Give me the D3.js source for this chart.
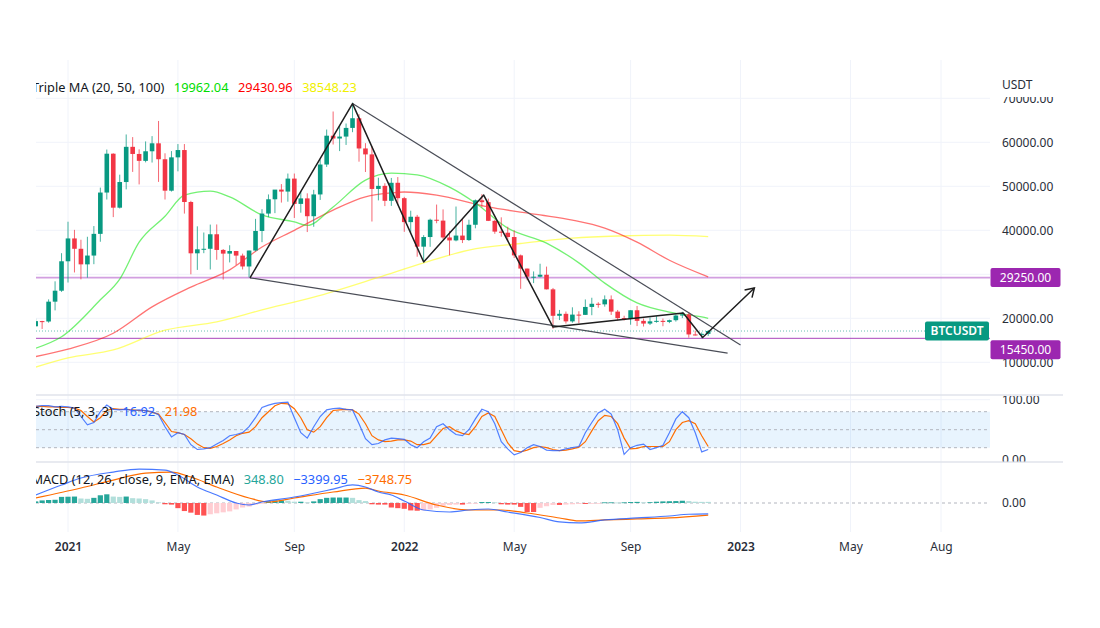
<!DOCTYPE html>
<html><head><meta charset="utf-8">
<script src="https://cdn.jsdelivr.net/npm/d3@7"></script>
<style>body{margin:0;background:#fff;} svg{display:block;font-family:"Noto Sans",sans-serif;}</style>
</head><body><svg id="c" width="1100" height="628"></svg>
<script>
// ---------- DATA ----------
const firstWeek = "2020-11-30"; // weekly bars, Monday open
const open = [18185,19360,19270,23780,26270,32960,38150,35800,32260,34260,
39190,48580,57410,45140,50970,58970,57350,55780,57960,59770,
56150,49000,56580,58240,46430,34770,35680,35800,39100,35540,
34700,35290,34250,31780,35400,39850,43800,47050,49250,48800,
51750,46000,47250,43200,48150,54950,61500,60860,61300,63270,
65470,58600,57250,49400,50100,46700,50800,47300,41860,43080,
36280,38470,42400,42200,38370,37700,38800,37780,41260,46820,
46400,42150,39700,39450,38470,34300,31300,29450,29450,29900,
26580,20570,21020,19300,20840,20780,22580,23300,23170,24300,
21520,20050,19830,21830,19420,18800,19310,19420,19180,19570,
20630,20900,16330,16280,16460];
const high = [19920,19420,24300,28400,34800,41950,40100,37850,38530,40960,
49700,58350,57500,52640,61780,61180,58400,60200,61400,64850,
57500,58000,59600,59600,46700,40900,39500,41300,41330,35750,
36600,35300,34700,35400,42600,44800,48150,49000,50500,52900,
52900,48850,48400,49200,56100,62900,67000,63700,64270,69000,
66400,59800,59100,51950,50700,51900,52100,47600,44450,43500,
38900,42650,45850,44750,39850,45400,42600,42400,47000,48200,
47200,42400,42950,40800,40000,34500,31300,30650,32400,31750,
26900,21900,21540,22500,21600,24280,24670,23650,25200,25200,
21900,20580,21860,22800,19950,20200,20480,19950,19700,20850,
21480,21450,17200,16800,17300];
const low = [18110,17580,19000,21800,26000,28130,30420,28850,29240,32300,
37400,47000,43000,44950,49300,53270,50430,55440,55400,51000,
47000,48800,53400,43800,30000,31000,34800,31100,33300,28800,
32700,32100,31100,29300,35200,37300,43000,43900,46300,46500,
42800,44000,39600,40800,46900,54400,59500,58000,59400,62300,
55600,53250,42000,46800,45500,45550,45700,39650,39500,34000,
32900,36250,41600,38000,34300,37500,37100,37600,40450,45200,
42100,39200,38550,37580,33700,26700,28650,28000,29300,26560,
17620,19600,18800,19000,18900,20760,20700,22400,22650,20760,
19520,19520,18540,18230,18130,18470,19000,18200,18900,19250,
20050,15600,16100,15480,16000];
const close = [19360,19270,23780,26270,32960,38150,35800,32260,34260,39190,
48580,57410,45140,50970,58970,57350,55780,57960,59770,56150,
49000,56580,58240,46430,34770,35680,35800,39100,35540,34700,
35290,34250,31780,35400,39850,43800,47050,49250,48800,51750,
46000,47250,43200,48150,54950,61500,60860,61300,63270,65470,
58600,57250,49400,50100,46700,50800,47300,41860,43080,36280,
38470,42400,42200,38370,37700,38800,37780,41260,46820,46400,
42150,39700,39450,38470,34300,31300,29450,29450,29900,26580,
20570,21020,19300,20840,20780,22580,23300,23170,24300,21520,
20050,19830,21830,19420,18800,19310,19420,19180,19570,20630,
20900,16330,16280,16460,17110];

const ma20 = [[0,13200],[4,15800],[10,24200],[13,28900],[16,37300],[20,43200],[23,48000],[27,48900],[30,47600],[35,43500],[40,41900],[42,41100],[46,45300],[51,51400],[55,53000],[59,52600],[64,49800],[68,46200],[73,40500],[79,37100],[84,32600],[88,28000],[93,23500],[98,21400],[103,20300],[104,19962]];
const ma50 = [[0,11300],[5,13000],[12,16600],[18,22600],[24,27100],[30,31000],[35,36200],[40,40000],[46,44600],[51,47600],[55,48500],[57,48700],[62,48000],[70,45300],[78,43500],[83,42300],[88,40500],[93,37300],[98,33200],[104,29431]];
const ma100 = [[0,8900],[5,11000],[12,12800],[20,17300],[28,19200],[35,21900],[43,24800],[53,29300],[60,32600],[67,35500],[75,37000],[83,38200],[90,38700],[98,38900],[104,38548]];
const maLabels = ["19962.04","29430.96","38548.23"];

// Stoch (5,3,3)
const stochK = [89,90,90,88,89,88,86,72,58,62,
80,91,84,83,84,82,83,82,80,75,
55,38,45,42,25,17,18,20,26,32,
40,42,45,55,70,87,91,94,95,96,
70,45,36,55,72,83,85,86,84,83,
60,35,25,27,33,36,35,34,25,20,
30,36,55,60,50,42,40,50,68,84,
80,60,30,18,8,12,20,25,22,16,
15,15,18,20,22,45,62,78,84,76,
50,9,20,24,26,17,20,24,45,68,
80,70,45,13,16.92];
const stochD = [89,89,88,88,87,87,86,82,72,63,
70,82,85,84,84,83,82,82,79,76,
62,47,45,42,35,26,20,19,22,27,
33,40,44,46,55,70,80,90,94,93,
85,70,50,46,55,70,82,83,84,83,
76,60,40,33,30,31,33,33,31,25,
25,28,40,52,55,48,44,42,55,72,
78,72,50,28,15,13,16,20,22,20,
17,15,16,18,21,30,48,65,74,72,
60,36,18,19,22,22,22,22,30,50,
62,65,60,40,21.98];
const stochLabels = ["16.92","21.98"];

// MACD (12, 26, close, 9) – sampled [barIndex, value]
const macdLine = [[0,2480],[4,5580],[7,7750],[12,9610],[16,10540],[20,10230],[22,8680],[25,4960],[28,2480],[31,0],[33,-620],[35,310],[40,1860],[46,4300],[49,5600],[51,4960],[53,3410],[55,2480],[57,620],[60,-2170],[64,-2790],[67,-2170],[70,-1860],[73,-2790],[78,-4500],[81,-5890],[84,-6200],[88,-5270],[93,-4650],[98,-4030],[101,-3500],[104,-3400]];
const signalLine = [[0,1550],[7,4650],[12,7130],[17,9300],[21,9610],[24,8060],[28,4960],[33,1550],[36,310],[40,1550],[46,3410],[51,4650],[53,3720],[57,2480],[62,-620],[67,-2170],[72,-2170],[76,-3100],[81,-4650],[84,-5580],[88,-5270],[93,-4960],[98,-4650],[104,-3749]];
const macdHist = [500,800,930,1000,1900,1950,2000,1400,1300,1600,
2400,2700,2000,1900,2000,1500,1400,1200,800,200,
-400,-500,-1600,-2500,-3000,-3700,-3900,-3500,-3200,-2900,
-2600,-2000,-1400,-1100,-500,-200,500,800,800,700,
400,400,200,500,1200,1600,1700,1700,1700,1600,
900,600,-400,-500,-500,-1400,-1600,-1800,-2300,-2400,
-2300,-2000,-1500,-900,-600,-500,-500,-300,-200,300,
300,200,-400,-500,-500,-1200,-2800,-2800,-1500,-1000,
-600,-600,-500,-400,-300,-300,-200,-150,200,200,
150,200,300,350,200,250,400,500,550,600,
700,600,400,350,349];
const macdLabels = ["348.80","\u22123399.95","\u22123748.75"];

// Price axis / levels
const priceTicks = [10000,20000,40000,50000,60000,70000];
const levels = [29250, 15450];
const lastPrice = 17110;
const stochTicks = [0,100];
const timeTicks = ["2021-01-04","2021-05-03","2021-09-06","2022-01-03","2022-05-02","2022-09-05","2023-01-02","2023-05-01","2023-08-07"];
const timeLabels = ["2021","May","Sep","2022","May","Sep","2023","May","Aug"];

// drawings: [date, price]
const zigzag = [["2021-07-20",29200],["2021-11-08",68800],["2022-01-24",32800],["2022-03-30",48000],["2022-06-13",18000],["2022-11-01",21200],["2022-11-22",15650],["2023-01-17",26900]];
const wedgeUpper = [["2021-11-08",68800],["2023-01-02",13950]];
const wedgeLower = [["2021-07-20",29200],["2022-12-19",12100]];

// ---------- LAYOUT ----------
const L = 36, R = 990;
const svg = d3.select("#c");
const parse = d3.utcParse("%Y-%m-%d");
const t0 = parse(firstWeek);
const dateOf = i => d3.utcDay.offset(t0, 7*i);
const x = d3.scaleUtc().domain([parse("2021-01-04"), parse("2023-08-07")]).range([68, 941]);
const xi = i => x(dateOf(i));
const y = d3.scaleLinear().domain([20000, 60000]).range([318.3, 142.3]);
const ys = d3.scaleLinear().domain([0, 100]).range([459.7, 399.7]);
const ym = d3.scaleLinear().domain([-5000, 5000]).range([519.1, 486.9]);

const defs = svg.append("defs");
defs.append("clipPath").attr("id","plot").append("rect").attr("x",L).attr("y",60).attr("width",R-L).attr("height",480);
defs.append("clipPath").attr("id","pane").append("rect").attr("x",L).attr("y",60).attr("width",R-L).attr("height",334);
defs.append("clipPath").attr("id","paxis").append("rect").attr("x",R).attr("y",97).attr("width",110).attr("height",297);
defs.append("clipPath").attr("id","saxis").append("rect").attr("x",R).attr("y",396).attr("width",110).attr("height",65.5);

const grid = "#f0f3fa";
// vertical grid
svg.append("g").selectAll("line").data(timeTicks).join("line")
  .attr("x1",d=>x(parse(d))).attr("x2",d=>x(parse(d))).attr("y1",60).attr("y2",532)
  .attr("stroke",grid).attr("stroke-width",1);
// horizontal grid price
svg.append("g").attr("clip-path","url(#pane)").selectAll("line").data([...priceTicks,30000]).join("line")
  .attr("x1",L).attr("x2",R).attr("y1",d=>y(d)).attr("y2",d=>y(d)).attr("stroke",grid);
// separators
[395, 462].forEach(v=>svg.append("line").attr("x1",L).attr("x2",1063).attr("y1",v).attr("y2",v).attr("stroke","#e0e3eb").attr("stroke-width",1.5));
svg.append("line").attr("x1",L).attr("x2",R).attr("y1",ys(100)).attr("y2",ys(100)).attr("stroke",grid);

// ---------- PRICE PANE ----------
const pane = svg.append("g").attr("clip-path","url(#pane)");
pane.append("line").attr("x1",L).attr("x2",R).attr("y1",y(levels[0])).attr("y2",y(levels[0])).attr("stroke","#c47fd6").attr("stroke-width",1.6).attr("opacity",0.75);
pane.append("line").attr("x1",L).attr("x2",R).attr("y1",y(levels[1])).attr("y2",y(levels[1])).attr("stroke","#9c27b0").attr("stroke-width",1).attr("opacity",0.85);
pane.append("line").attr("x1",L).attr("x2",R).attr("y1",y(lastPrice)).attr("y2",y(lastPrice)).attr("stroke","#089981").attr("stroke-dasharray","1,2").attr("opacity",0.6);

// MAs
const maLine = d3.line().x(d=>xi(d[0])).y(d=>y(d[1])).curve(d3.curveMonotoneX);
[[ma100,"#ffff00"],[ma50,"#ff0000"],[ma20,"#00e600"]].forEach(([d,c])=>{
  pane.append("path").attr("d",maLine(d)).attr("fill","none").attr("stroke",c).attr("stroke-width",1.3).attr("stroke-opacity",0.55);
});

// candles
const up="#089981", dn="#f23645";
const idx = d3.range(open.length);
const cg = pane.append("g");
cg.selectAll("line").data(idx).join("line")
  .attr("x1",i=>xi(i)).attr("x2",i=>xi(i)).attr("y1",i=>y(high[i])).attr("y2",i=>y(low[i]))
  .attr("stroke",i=>close[i]>=open[i]?up:dn).attr("stroke-width",1).attr("opacity",0.75);
cg.selectAll("rect").data(idx).join("rect")
  .attr("x",i=>xi(i)-2.3).attr("width",4.6)
  .attr("y",i=>Math.min(y(open[i]),y(close[i])))
  .attr("height",i=>Math.max(1,Math.abs(y(open[i])-y(close[i]))))
  .attr("fill",i=>close[i]>=open[i]?up:dn);

// drawings
const pl = d3.line().x(d=>x(parse(d[0]))).y(d=>y(d[1]));
pane.append("path").attr("d",pl(wedgeUpper)).attr("stroke","#4a4d57").attr("stroke-width",1.2).attr("fill","none");
pane.append("path").attr("d",pl(wedgeLower)).attr("stroke","#4a4d57").attr("stroke-width",1.2).attr("fill","none");
pane.append("path").attr("d",pl(zigzag)).attr("stroke","#1e1e1e").attr("stroke-width",1.5).attr("fill","none").attr("stroke-linejoin","round");
{
  const a = zigzag[zigzag.length-2], b = zigzag[zigzag.length-1];
  const x1=x(parse(a[0])), y1=y(a[1]), x2=x(parse(b[0])), y2=y(b[1]);
  const ang = Math.atan2(y2-y1, x2-x1), len = 10;
  const p = [ang+Math.PI*0.82, ang-Math.PI*0.82].map(t=>[x2+len*Math.cos(t), y2+len*Math.sin(t)]);
  pane.append("path").attr("d",`M${p[0][0]},${p[0][1]}L${x2},${y2}L${p[1][0]},${p[1][1]}`)
    .attr("stroke","#1e1e1e").attr("stroke-width",1.5).attr("fill","none");
}

// ---------- STOCH ----------
const sg = svg.append("g").attr("clip-path","url(#plot)");
sg.append("rect").attr("x",L).attr("width",R-L).attr("y",ys(80)).attr("height",ys(20)-ys(80)).attr("fill","rgba(33,150,243,0.1)");
[80,50,20].forEach(v=>sg.append("line").attr("x1",L).attr("x2",R).attr("y1",ys(v)).attr("y2",ys(v))
  .attr("stroke","#b2b5be").attr("stroke-dasharray","3,3"));
const sl = d3.line().x((d,i)=>xi(i)).y(d=>ys(d));
sg.append("path").attr("d",sl(stochD)).attr("fill","none").attr("stroke","#ff6d00").attr("stroke-width",1.2);
sg.append("path").attr("d",sl(stochK)).attr("fill","none").attr("stroke","#2962ff").attr("stroke-width",1.2).attr("stroke-opacity",0.8);

// ---------- MACD ----------
const mg = svg.append("g").attr("clip-path","url(#plot)");
mg.append("line").attr("x1",L).attr("x2",R).attr("y1",ym(0)).attr("y2",ym(0)).attr("stroke","#b2b5be").attr("stroke-dasharray","3,3");
mg.selectAll("rect").data(idx).join("rect")
  .attr("x",i=>xi(i)-2.6).attr("width",5.2)
  .attr("y",i=>Math.min(ym(0),ym(macdHist[i])))
  .attr("height",i=>Math.max(0.8,Math.abs(ym(macdHist[i])-ym(0))))
  .attr("fill",i=>{const v=macdHist[i], p=i>0?macdHist[i-1]:v;
    return v>=0 ? (v>=p?"#26a69a":"#b2dfdb") : (v<=p?"#ff5252":"#ffcdd2");});
const ml = d3.line().x(d=>xi(d[0])).y(d=>ym(d[1])).curve(d3.curveMonotoneX);
mg.append("path").attr("d",ml(signalLine)).attr("fill","none").attr("stroke","#ff6d00").attr("stroke-width",1.2);
mg.append("path").attr("d",ml(macdLine)).attr("fill","none").attr("stroke","#2962ff").attr("stroke-width",1.2).attr("stroke-opacity",0.85);

// ---------- LEGENDS ----------
const lg = svg.append("g").attr("clip-path","url(#plot)").style("font-size","12.8px");
function legend(x0, yy, items){
  let cx = x0;
  items.forEach(([txt,col])=>{
    const t = lg.append("text").attr("x",cx).attr("y",yy).attr("fill",col).text(txt);
    cx += t.node().getComputedTextLength() + 9.5;
  });
}
legend(32, 91.5, [["Triple MA (20, 50, 100)","#131722"],[maLabels[0],"#00dd00"],[maLabels[1],"#ff0000"],[maLabels[2],"#f0f000"]]);
legend(33, 416, [["Stoch (5, 3, 3)","#131722"],[stochLabels[0],"#2962ff"],[stochLabels[1],"#ff6d00"]]);
legend(31.5, 483.5, [["MACD (12, 26, close, 9, EMA, EMA)","#131722"],[macdLabels[0],"#26a69a"],[macdLabels[1],"#2962ff"],[macdLabels[2],"#ff6d00"]]);

// ---------- AXES ----------
const axTxt = "#2a2e39";
svg.append("text").attr("x",1002).attr("y",89).attr("font-size",12).attr("fill",axTxt).text("USDT");
const pa = svg.append("g").attr("clip-path","url(#paxis)").append("g").attr("transform",`translate(${R},0)`)
  .call(d3.axisRight(y).tickValues(priceTicks).tickFormat(d3.format(".2f")).tickSize(0).tickPadding(12));
pa.select(".domain").remove();
pa.selectAll("text").attr("font-size",12).attr("fill",axTxt).attr("font-family","Noto Sans");

const sa = svg.append("g").attr("clip-path","url(#saxis)").append("g").attr("transform",`translate(${R},0)`)
  .call(d3.axisRight(ys).tickValues(stochTicks).tickFormat(d3.format(".2f")).tickSize(0).tickPadding(12));
sa.select(".domain").remove();
sa.selectAll("text").attr("font-size",12).attr("fill",axTxt).attr("font-family","Noto Sans");

const ma = svg.append("g").attr("transform",`translate(${R},0)`)
  .call(d3.axisRight(ym).tickValues([0]).tickFormat(d3.format(".2f")).tickSize(0).tickPadding(12));
ma.select(".domain").remove();
ma.selectAll("text").attr("font-size",12).attr("fill",axTxt).attr("font-family","Noto Sans");

const xa = svg.append("g").attr("transform","translate(0,536)")
  .call(d3.axisBottom(x).tickValues(timeTicks.map(parse)).tickFormat((d,i)=>timeLabels[i]).tickSize(0).tickPadding(6));
xa.select(".domain").remove();
xa.selectAll("text").attr("font-size",12).attr("fill",axTxt).attr("font-family","Noto Sans")
  .attr("font-weight",(d,i)=>/^\d+$/.test(timeLabels[i])?600:400);

// ---------- PRICE LABELS ----------
function tag(x0, w, yc, fill, txt, weight){
  svg.append("rect").attr("x",x0).attr("y",yc-9.5).attr("width",w).attr("height",19).attr("rx",2).attr("fill",fill);
  svg.append("text").attr("x",x0+w/2).attr("y",yc+4.2).attr("text-anchor","middle").attr("font-size",12)
    .attr("fill","#fff").attr("font-weight",weight||400).text(txt);
}
tag(990.5, 70, y(levels[0]), "#9c27b0", d3.format(".2f")(levels[0]));
tag(990.5, 70, y(levels[1])+11.5, "#9c27b0", d3.format(".2f")(levels[1]));
tag(925, 64, y(lastPrice), "#089981", "BTCUSDT", 600);
</script></body></html>
